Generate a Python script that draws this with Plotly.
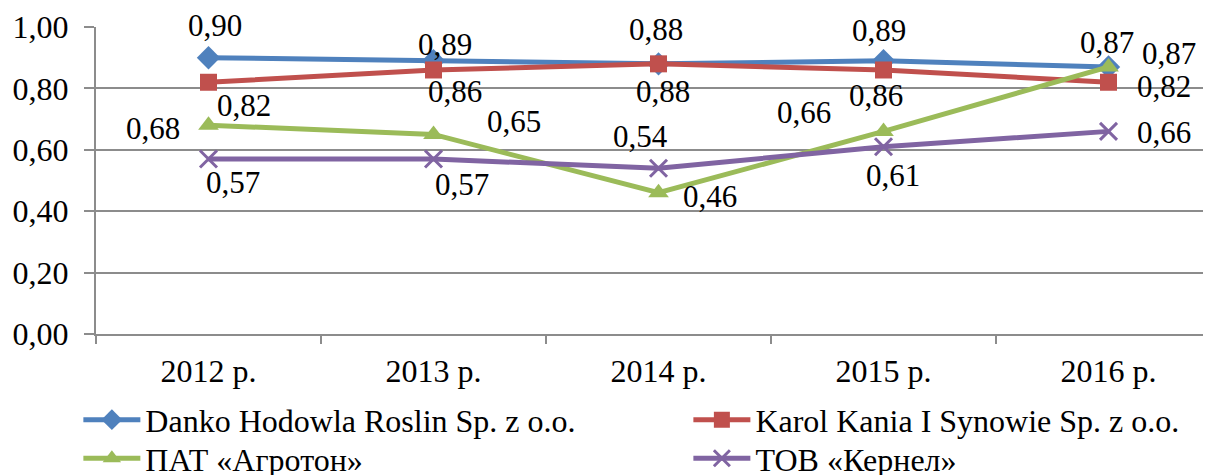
import plotly.graph_objects as go

years = ["2012 р.", "2013 р.", "2014 р.", "2015 р.", "2016 р."]
danko = [0.90, 0.89, 0.88, 0.89, 0.87]
karol = [0.82, 0.86, 0.88, 0.86, 0.82]
agroton = [0.68, 0.65, 0.46, 0.66, 0.87]
kernel = [0.57, 0.57, 0.54, 0.61, 0.66]
names = ["Danko Hodowla Roslin Sp. z o.o.", "Karol Kania I Synowie Sp. z o.o.",
         "ПАТ «Агротон»", "ТОВ «Кернел»"]

colors = ["#4F81BD", "#C0504D", "#9BBB59", "#8064A2"]
symbols = ["diamond", "square", "triangle-up", "x-thin"]
sizes = [18, 17, 18, 17]
legend_ids = ["legend", "legend2", "legend3", "legend4"]
# legend positions in paper coords (x, y)
legend_pos = [(-0.0157, -0.19), (0.5275, -0.19), (-0.0157, -0.316), (0.5275, -0.316)]
# label offsets (px) relative to each point: (dx, dy) with dy positive = downward
offsets = [
    [(6, -32), (11, -16), (-3, -34), (-5, -30), (-2, -24)],
    [(35, 23), (21, 22), (4, 28), (-8, 26), (55, 4)],
    [(-56, 3), (80, -13), (51, 4), (-80, -19), (60, -13)],
    [(24, 23), (28, 25), (-18, -32), (9, 29), (55, 1)],
]

FONT = "Liberation Serif"
series = [danko, karol, agroton, kernel]

fig = go.Figure()
for i, vals in enumerate(series):
    mk = dict(symbol=symbols[i], size=sizes[i], color=colors[i])
    if symbols[i] == "x-thin":
        mk["line"] = dict(color=colors[i], width=3)
    fig.add_trace(go.Scatter(
        x=years, y=vals, name=names[i], mode="lines+markers",
        line=dict(color=colors[i], width=5),
        marker=mk, cliponaxis=False, legend=legend_ids[i],
    ))

annotations = []
for i, vals in enumerate(series):
    for j, v in enumerate(vals):
        dx, dy = offsets[i][j]
        annotations.append(dict(
            x=years[j], y=v, xref="x", yref="y",
            text=f"{v:.2f}".replace(".", ","), showarrow=False,
            xshift=dx, yshift=-dy,
            font=dict(family=FONT, size=31, color="black"),
        ))

grid = "#8C8C8C"
legends = {}
for i, lid in enumerate(legend_ids):
    lx, ly = legend_pos[i]
    legends[lid] = dict(
        x=lx, y=ly, orientation="v", xanchor="left", yanchor="top",
        itemwidth=57, tracegroupgap=0, bgcolor="rgba(0,0,0,0)",
        font=dict(family=FONT, size=32, color="black"),
    )

fig.update_layout(
    width=1211, height=475,
    margin=dict(l=88, r=0, t=19, b=149, autoexpand=False),
    paper_bgcolor="white", plot_bgcolor="white",
    separators=", ",
    font=dict(family=FONT, size=32, color="black"),
    annotations=annotations,
    showlegend=True,
    **legends,
    xaxis=dict(
        type="category", range=[-0.5, 4.491],
        showgrid=False, showline=True, linecolor=grid, linewidth=2,
        ticks="outside", tickson="boundaries", ticklen=8, tickcolor=grid, tickwidth=2,
        ticklabelstandoff=8,
        tickfont=dict(family=FONT, size=32, color="black"),
    ),
    yaxis=dict(
        range=[0, 1.0], dtick=0.2, tickformat=".2f",
        showgrid=True, gridcolor=grid, gridwidth=2,
        showline=True, linecolor=grid, linewidth=2,
        ticks="outside", ticklen=10, tickcolor=grid, tickwidth=2,
        ticklabelstandoff=9, zeroline=False,
        tickfont=dict(family=FONT, size=32, color="black"),
    ),
)

fig.write_html("out.html")
